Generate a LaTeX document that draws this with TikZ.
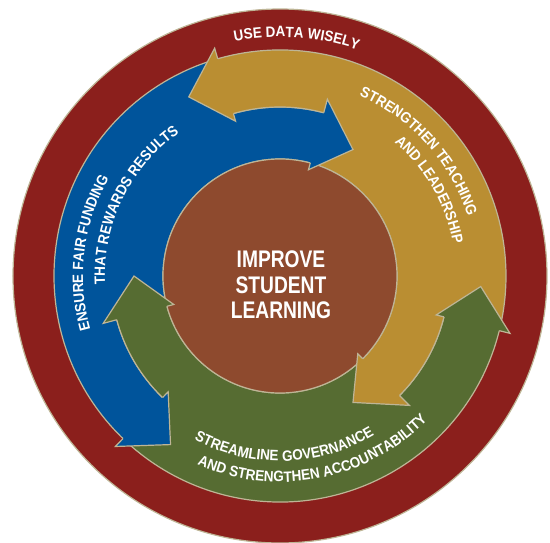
\documentclass[tikz,border=0pt]{standalone}
\usepackage{fontspec}
\usepackage{tikz}
\usepackage{xcolor}
\usetikzlibrary{decorations.text}

\newfontfamily\ringfont[FakeStretch=0.9]{Liberation Sans}
\newfontfamily\goalfont[FakeStretch=0.8]{Liberation Sans}
\newcommand{\ringtextfont}{\ringfont\bfseries\fontsize{15}{15}\selectfont}

\definecolor{ringred}{RGB}{139,31,28}
\definecolor{fundblue}{RGB}{0,84,155}
\definecolor{teachgold}{RGB}{186,142,50}
\definecolor{govgreen}{RGB}{86,108,50}
\definecolor{goalbrown}{RGB}{142,74,46}
\definecolor{rimline}{RGB}{190,181,150}

\begin{document}
\begin{tikzpicture}[
    rim/.style={draw=rimline, line width=1.2pt},
    ringtext/.style={decorate, decoration={text along path, text align=center,
        text color=white, text={|\ringtextfont|#1}}}
]
    \useasboundingbox (-280pt,-266pt) rectangle (270pt,276pt);

    % Outer ring
    \filldraw[rim, fill=ringred] (0,0) circle[radius=267pt];

    % Arrow bodies
    \filldraw[rim, fill=fundblue] (73:117pt) arc[start angle=73, end angle=193, radius=117pt]
        -- (193:169pt) arc[start angle=193, end angle=227, radius=169pt]
        -- (227:226pt) arc[start angle=227, end angle=108, radius=226pt]
        -- (108:169pt) arc[start angle=108, end angle=73, radius=169pt] -- cycle;
    \filldraw[rim, fill=govgreen] (193:117pt) arc[start angle=193, end angle=313, radius=117pt]
        -- (313:169pt) arc[start angle=313, end angle=347, radius=169pt]
        -- (347:226pt) arc[start angle=347, end angle=228, radius=226pt]
        -- (228:169pt) arc[start angle=228, end angle=193, radius=169pt] -- cycle;
    \filldraw[rim, fill=teachgold] (313:117pt) arc[start angle=313, end angle=433, radius=117pt]
        -- (433:169pt) arc[start angle=433, end angle=467, radius=169pt]
        -- (467:226pt) arc[start angle=467, end angle=348, radius=226pt]
        -- (348:169pt) arc[start angle=348, end angle=313, radius=169pt] -- cycle;

    % Centre
    \filldraw[rim, fill=goalbrown] (0,0) circle[radius=117pt];

    % Arrow heads
    \filldraw[rim, fill=fundblue] (75:117pt) -- (75:110pt) -- (60:146pt) -- (75:183pt) -- (75:169pt);
    \filldraw[rim, fill=fundblue] (226:169pt) -- (226:161pt) -- (237:201pt) -- (226:237pt) -- (226:226pt);
    \filldraw[rim, fill=govgreen] (195:117pt) -- (195:110pt) -- (180:146pt) -- (195:183pt) -- (195:169pt);
    \filldraw[rim, fill=govgreen] (346:169pt) -- (346:161pt) -- (357:201pt) -- (346:237pt) -- (346:226pt);
    \filldraw[rim, fill=teachgold] (315:117pt) -- (315:110pt) -- (300:146pt) -- (315:183pt) -- (315:169pt);
    \filldraw[rim, fill=teachgold] (106:169pt) -- (106:161pt) -- (117:201pt) -- (106:237pt) -- (106:226pt);

    % Ring labels
    \path[ringtext={USE DATA WISELY}] (131:239pt) arc[start angle=131, end angle=41, radius=239pt];
    \path[ringtext={STRENGTHEN TEACHING}] (82:197pt) arc[start angle=82, end angle=2, radius=197pt];
    \path[ringtext={AND LEADERSHIP}] (75:176pt) arc[start angle=75, end angle=-15, radius=176pt];
    \path[ringtext={ENSURE FAIR FUNDING}] (218:197pt) arc[start angle=218, end angle=128, radius=197pt];
    \path[ringtext={THAT REWARDS RESULTS}] (199:175pt) arc[start angle=199, end angle=109, radius=175pt];
    \path[ringtext={STREAMLINE GOVERNANCE}] (226.5:185pt) arc[start angle=226.5, end angle=316.5, radius=185pt];
    \path[ringtext={AND STRENGTHEN ACCOUNTABILITY}] (236:206pt) arc[start angle=236, end angle=326, radius=206pt];

    % Goal
    \node[text=white, align=center, font=\goalfont\bfseries\fontsize{24}{25.5}\selectfont] (goal) at (1pt,-9pt) {IMPROVE\\STUDENT\\LEARNING};
\end{tikzpicture}
\end{document}
